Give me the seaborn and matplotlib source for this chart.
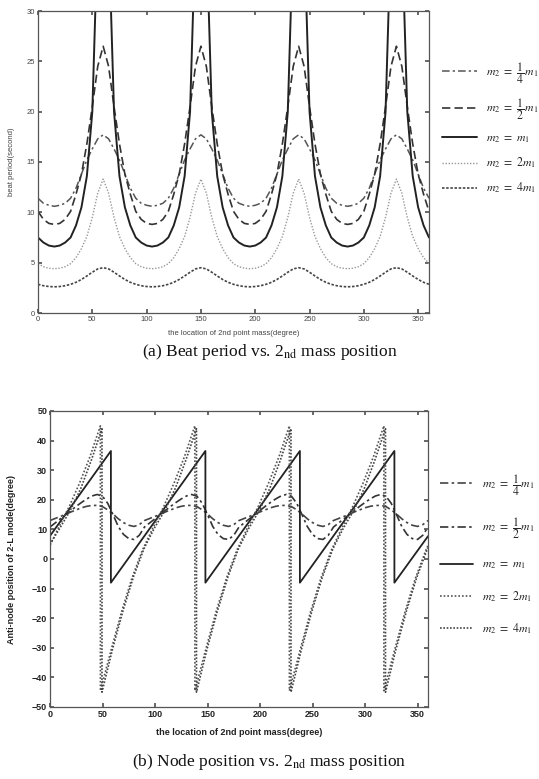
import matplotlib
matplotlib.use('Agg')
import matplotlib.pyplot as plt
import seaborn as sns
import pandas as pd

# ---- (a) beat period, read every 5 degrees ----
angle_a = list(range(0, 361, 5))

beat_quarter = [
    11.4, 10.9, 10.7, 10.6, 10.7, 10.9, 11.4, 12.4, 13.8, 15.2, 16.3, 17.3, 17.7, 17.3, 16.3, 15.2, 13.8, 12.4,
    11.4, 10.9, 10.7, 10.6, 10.7, 10.9, 11.4, 12.4, 13.8, 15.2, 16.3, 17.3, 17.7, 17.3, 16.3, 15.2, 13.8, 12.4,
    11.4, 10.9, 10.7, 10.6, 10.7, 10.9, 11.4, 12.4, 13.8, 15.2, 16.3, 17.3, 17.7, 17.3, 16.3, 15.2, 13.8, 12.4,
    11.4, 10.9, 10.7, 10.6, 10.7, 10.9, 11.4, 12.4, 13.8, 15.2, 16.3, 17.3, 17.7, 17.3, 16.3, 15.2, 13.8, 12.4,
    11.4]
beat_half = [
    10.1, 9.3, 8.9, 8.8, 8.9, 9.3, 10.1, 11.8, 13.8, 16.8, 20.5, 24.5, 26.5, 24.5, 20.5, 16.8, 13.8, 11.8,
    10.1, 9.3, 8.9, 8.8, 8.9, 9.3, 10.1, 11.8, 13.8, 16.8, 20.5, 24.5, 26.5, 24.5, 20.5, 16.8, 13.8, 11.8,
    10.1, 9.3, 8.9, 8.8, 8.9, 9.3, 10.1, 11.8, 13.8, 16.8, 20.5, 24.5, 26.5, 24.5, 20.5, 16.8, 13.8, 11.8,
    10.1, 9.3, 8.9, 8.8, 8.9, 9.3, 10.1, 11.8, 13.8, 16.8, 20.5, 24.5, 26.5, 24.5, 20.5, 16.8, 13.8, 11.8,
    10.1]
# equal masses: the period blows up at the peaks (300 = off the chart)
beat_equal = [
    7.5, 7.0, 6.7, 6.6, 6.7, 7.0, 7.5, 8.7, 10.5, 13.6, 20.0, 38.0, 300, 38.0, 20.0, 13.6, 10.5, 8.7,
    7.5, 7.0, 6.7, 6.6, 6.7, 7.0, 7.5, 8.7, 10.5, 13.6, 20.0, 38.0, 300, 38.0, 20.0, 13.6, 10.5, 8.7,
    7.5, 7.0, 6.7, 6.6, 6.7, 7.0, 7.5, 8.7, 10.5, 13.6, 20.0, 38.0, 300, 38.0, 20.0, 13.6, 10.5, 8.7,
    7.5, 7.0, 6.7, 6.6, 6.7, 7.0, 7.5, 8.7, 10.5, 13.6, 20.0, 38.0, 300, 38.0, 20.0, 13.6, 10.5, 8.7,
    7.5]
beat_double = [
    4.9, 4.6, 4.45, 4.4, 4.45, 4.6, 4.9, 5.5, 6.4, 7.6, 9.5, 11.9, 13.3, 11.9, 9.5, 7.6, 6.4, 5.5,
    4.9, 4.6, 4.45, 4.4, 4.45, 4.6, 4.9, 5.5, 6.4, 7.6, 9.5, 11.9, 13.3, 11.9, 9.5, 7.6, 6.4, 5.5,
    4.9, 4.6, 4.45, 4.4, 4.45, 4.6, 4.9, 5.5, 6.4, 7.6, 9.5, 11.9, 13.3, 11.9, 9.5, 7.6, 6.4, 5.5,
    4.9, 4.6, 4.45, 4.4, 4.45, 4.6, 4.9, 5.5, 6.4, 7.6, 9.5, 11.9, 13.3, 11.9, 9.5, 7.6, 6.4, 5.5,
    4.9]
beat_quad = [
    2.85, 2.71, 2.63, 2.6, 2.63, 2.71, 2.85, 3.05, 3.33, 3.68, 4.05, 4.38, 4.5, 4.38, 4.05, 3.68, 3.33, 3.05,
    2.85, 2.71, 2.63, 2.6, 2.63, 2.71, 2.85, 3.05, 3.33, 3.68, 4.05, 4.38, 4.5, 4.38, 4.05, 3.68, 3.33, 3.05,
    2.85, 2.71, 2.63, 2.6, 2.63, 2.71, 2.85, 3.05, 3.33, 3.68, 4.05, 4.38, 4.5, 4.38, 4.05, 3.68, 3.33, 3.05,
    2.85, 2.71, 2.63, 2.6, 2.63, 2.71, 2.85, 3.05, 3.33, 3.68, 4.05, 4.38, 4.5, 4.38, 4.05, 3.68, 3.33, 3.05,
    2.85]

# ---- (b) anti-node position ----
angle_b = list(range(0, 361, 5))
node_quarter = [
    13.0, 13.7, 14.4, 15.1, 15.9, 16.6, 17.3, 17.8, 18.1, 18.1, 17.7, 16.6, 15.2, 13.6, 12.3, 11.4, 11.0, 11.6,
    13.0, 13.7, 14.4, 15.1, 15.9, 16.6, 17.3, 17.8, 18.1, 18.1, 17.7, 16.6, 15.2, 13.6, 12.3, 11.4, 11.0, 11.6,
    13.0, 13.7, 14.4, 15.1, 15.9, 16.6, 17.3, 17.8, 18.1, 18.1, 17.7, 16.6, 15.2, 13.6, 12.3, 11.4, 11.0, 11.6,
    13.0, 13.7, 14.4, 15.1, 15.9, 16.6, 17.3, 17.8, 18.1, 18.1, 17.7, 16.6, 15.2, 13.6, 12.3, 11.4, 11.0, 11.6,
    13.0]
node_half = [
    10.8, 12.2, 13.6, 15.0, 16.4, 17.8, 19.1, 20.3, 21.3, 21.8, 21.2, 18.8, 15.0, 11.0, 8.3, 6.9, 6.6, 8.0,
    10.8, 12.2, 13.6, 15.0, 16.4, 17.8, 19.1, 20.3, 21.3, 21.8, 21.2, 18.8, 15.0, 11.0, 8.3, 6.9, 6.6, 8.0,
    10.8, 12.2, 13.6, 15.0, 16.4, 17.8, 19.1, 20.3, 21.3, 21.8, 21.2, 18.8, 15.0, 11.0, 8.3, 6.9, 6.6, 8.0,
    10.8, 12.2, 13.6, 15.0, 16.4, 17.8, 19.1, 20.3, 21.3, 21.8, 21.2, 18.8, 15.0, 11.0, 8.3, 6.9, 6.6, 8.0,
    10.8]

angle_equal = [0, 58, 58, 148, 148, 238, 238, 328, 328, 360]
node_equal = [7.8, 36.5, -8.0, 36.5, -8.0, 36.5, -8.0, 36.5, -8.0, 7.7]

angle_double = [0, 8, 18, 28, 38, 48,
                48, 58, 68, 78, 88, 98, 108, 118, 128, 138,
                138, 148, 158, 168, 178, 188, 198, 208, 218, 228,
                228, 238, 248, 258, 268, 278, 288, 298, 308, 318,
                318, 328, 338, 348, 358, 360]
node_double = [4.6, 10.5, 17.5, 25.5, 34.5, 45.0,
               -44.5, -31.0, -18.0, -6.5, 3.0, 10.5, 17.5, 25.5, 34.5, 45.0,
               -44.5, -31.0, -18.0, -6.5, 3.0, 10.5, 17.5, 25.5, 34.5, 45.0,
               -44.5, -31.0, -18.0, -6.5, 3.0, 10.5, 17.5, 25.5, 34.5, 45.0,
               -44.5, -31.0, -18.0, -6.5, 3.0, 4.6]
angle_quad = [0, 9.5, 19.5, 29.5, 39.5, 49.5,
              49.5, 59.5, 69.5, 79.5, 89.5, 99.5, 109.5, 119.5, 129.5, 139.5,
              139.5, 149.5, 159.5, 169.5, 179.5, 189.5, 199.5, 209.5, 219.5, 229.5,
              229.5, 239.5, 249.5, 259.5, 269.5, 279.5, 289.5, 299.5, 309.5, 319.5,
              319.5, 329.5, 339.5, 349.5, 359.5, 360]
node_quad = [5.0, 10.5, 16.5, 24.0, 33.5, 44.0,
             -45.0, -30.5, -17.5, -6.0, 3.5, 10.5, 16.5, 24.0, 33.5, 44.0,
             -45.0, -30.5, -17.5, -6.0, 3.5, 10.5, 16.5, 24.0, 33.5, 44.0,
             -45.0, -30.5, -17.5, -6.0, 3.5, 10.5, 16.5, 24.0, 33.5, 44.0,
             -45.0, -30.5, -17.5, -6.0, 3.5, 3.8]

labels = [r'$m_2\ =\ \dfrac{1}{4}\,m_1$', r'$m_2\ =\ \dfrac{1}{2}\,m_1$',
          r'$m_2\ =\ m_1$', r'$m_2\ =\ 2m_1$', r'$m_2\ =\ 4m_1$']

sns.set_theme(style='ticks', rc={'xtick.direction': 'in', 'ytick.direction': 'in',
                                 'xtick.top': True, 'ytick.right': True,
                                 'axes.edgecolor': '#555555', 'axes.linewidth': 0.9,
                                 'xtick.color': '#555555', 'ytick.color': '#555555',
                                 'xtick.major.size': 3, 'ytick.major.size': 3})
plt.rcParams['font.family'] = ['Liberation Sans', 'DejaVu Sans']
plt.rcParams['mathtext.fontset'] = 'stix'

fig = plt.figure(figsize=(5.39, 7.79), dpi=100)
ax1 = fig.add_axes([38 / 539, 1 - 313 / 779, 391 / 539, 302 / 779])
ax2 = fig.add_axes([50 / 539, 1 - 707 / 779, 378 / 539, 296 / 779])

# top panel
top_series = [
    (beat_quarter, dict(color='#555555', lw=1.1, linestyle=(0, (5, 2, 1.5, 2)))),
    (beat_half, dict(color='#333333', lw=1.2, linestyle=(0, (5, 2.5)))),
    (beat_equal, dict(color='#222222', lw=1.4, linestyle='-')),
    (beat_double, dict(color='#999999', lw=1.0, linestyle=(0, (1, 1.2)))),
    (beat_quad, dict(color='#444444', lw=1.2, linestyle=(0, (1.5, 1)))),
]
for (vals, st), lab in zip(top_series, labels):
    df = pd.DataFrame({'angle': angle_a, 'value': vals})
    sns.lineplot(data=df, x='angle', y='value', ax=ax1, sort=False, estimator=None,
                 label=lab, **st)

ax1.set_xlim(0, 360)
ax1.set_ylim(0, 30)
ax1.set_xticks(range(0, 351, 50))
ax1.set_yticks(range(0, 31, 5))
ax1.tick_params(labelsize=5.5, labelcolor='#444444', pad=2)
ax1.set_xlabel('the location of 2nd point mass(degree)', fontsize=5.5, color='#444444')
ax1.set_ylabel('beat period(second)', fontsize=5.5, color='#444444')
ax1.xaxis.set_label_coords(0.5, -0.055)
ax1.yaxis.set_label_coords(-0.06, 0.5)
ax1.legend(loc='upper left', bbox_to_anchor=(442 / 539, 1 - 60 / 779), bbox_transform=fig.transFigure,
           frameon=False, fontsize=8.5, handlelength=3.0, handletextpad=0.7,
           labelspacing=0.9, borderpad=0, borderaxespad=0)

# bottom panel
bot_series = [
    (angle_b, node_quarter, dict(color='#444444', lw=1.2, linestyle=(0, (5, 2, 1.5, 2)))),
    (angle_b, node_half, dict(color='#333333', lw=1.2, linestyle=(0, (5, 2, 1.5, 2)))),
    (angle_equal, node_equal, dict(color='#222222', lw=1.3, linestyle='-')),
    (angle_double, node_double, dict(color='#555555', lw=1.2, linestyle=(0, (1, 1.2)))),
    (angle_quad, node_quad, dict(color='#444444', lw=1.2, linestyle=(0, (1, 1)))),
]
for (xs, vals, st), lab in zip(bot_series, labels):
    df = pd.DataFrame({'angle': xs, 'value': vals})
    sns.lineplot(data=df, x='angle', y='value', ax=ax2, sort=False, estimator=None,
                 label=lab, **st)

ax2.set_xlim(0, 360)
ax2.set_ylim(-50, 50)
ax2.set_xticks(range(0, 351, 50))
ax2.set_yticks(range(-50, 51, 10))
ax2.tick_params(labelsize=6.5, labelcolor='#222222', pad=2)
for t in ax2.get_xticklabels() + ax2.get_yticklabels():
    t.set_fontweight('bold')
ax2.set_xlabel('the location of 2nd point mass(degree)', fontsize=6.5, color='#222222', fontweight='bold')
ax2.set_ylabel('Anti-node position of 2-L mode(degree)', fontsize=6.5, color='#222222', fontweight='bold')
ax2.xaxis.set_label_coords(0.5, -0.07)
ax2.yaxis.set_label_coords(-0.09, 0.5)
ax2.legend(loc='upper left', bbox_to_anchor=(440 / 539, 1 - 472 / 779), bbox_transform=fig.transFigure,
           frameon=False, fontsize=8.5, handlelength=2.8, handletextpad=0.8,
           labelspacing=1.5, borderpad=0, borderaxespad=0)

fig.text(0.5, 1 - 352 / 779, r'(a) Beat period vs. 2$_{\mathrm{nd}}$ mass position',
         family='Liberation Serif', fontsize=12.5, ha='center', va='center', color='#111111')
fig.text(0.5, 1 - 762 / 779, r'(b) Node position vs. 2$_{\mathrm{nd}}$ mass position',
         family='Liberation Serif', fontsize=12.5, ha='center', va='center', color='#111111')

fig.savefig('out.png', dpi=100)
